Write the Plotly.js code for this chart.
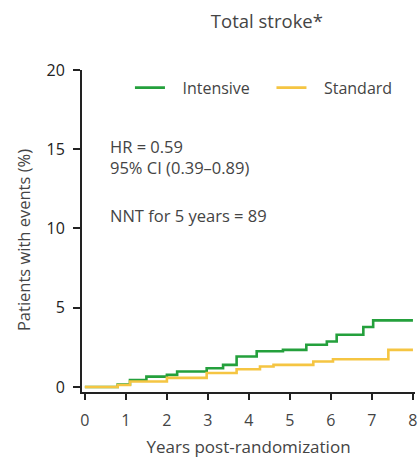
<!DOCTYPE html>
<html>
<head>
<meta charset="utf-8">
<script src="https://cdn.plot.ly/plotly-3.0.1.min.js"></script>
<style>html,body{margin:0;padding:0;background:#fff;}#chart{width:419px;height:458px;}</style>
</head>
<body>
<div id="chart"></div>
<script>
// Years post-randomization (step change points) and cumulative % with events
const intensiveYears = [0, 0.8, 1.1, 1.5, 2.0, 2.25, 2.97, 3.37, 3.7, 4.19, 4.83, 5.4, 5.9, 6.14, 6.79, 7.03, 8.0];
const intensiveValues = [0.0, 0.15, 0.44, 0.65, 0.76, 0.97, 1.18, 1.39, 1.92, 2.25, 2.34, 2.66, 2.87, 3.29, 3.78, 4.2, 4.2];
const standardYears = [0, 0.8, 1.1, 2.0, 2.97, 3.7, 4.27, 4.6, 5.57, 6.05, 7.4, 8.0];
const standardValues = [0.0, 0.12, 0.34, 0.57, 0.88, 1.12, 1.29, 1.39, 1.6, 1.75, 2.34, 2.34];
const seriesNames = ["Intensive", "Standard"];
const xTicks = [0, 1, 2, 3, 4, 5, 6, 7, 8];
const yTicks = [0, 5, 10, 15, 20];
const statLines = ["HR = 0.59", "95% CI (0.39\u20130.89)", "NNT for 5 years = 89"];

const font = "Open Sans, Noto Sans, sans-serif";
const txt = "#444";
const pad = "\u00a0\u00a0\u00a0";
const traces = [
  {x: intensiveYears, y: intensiveValues, name: pad + seriesNames[0] + "\u00a0\u00a0\u00a0\u00a0", mode: "lines",
   line: {shape: "hv", color: "#24a03c", width: 2.6}},
  {x: standardYears, y: standardValues, name: pad + seriesNames[1], mode: "lines",
   line: {shape: "hv", color: "#f5c542", width: 2.6}}
];
const layout = {
  width: 419, height: 458,
  margin: {l: 82, r: 4, t: 70, b: 66},
  paper_bgcolor: "#fff", plot_bgcolor: "#fff",
  font: {family: font, color: txt, size: 16},
  title: {text: "Total stroke*", x: 0.637, xanchor: "center", y: 0.952, yanchor: "middle",
          font: {family: font, size: 18.5, color: txt}},
  showlegend: true,
  legend: {orientation: "h", x: 0.144, xanchor: "left", y: 0.945, yanchor: "middle",
           bgcolor: "rgba(0,0,0,0)", font: {family: font, size: 16, color: txt},
           itemclick: false},
  xaxis: {range: [-0.07, 8.05], tickvals: xTicks, ticktext: xTicks.map(String),
          showgrid: false, zeroline: false, showline: true, linecolor: "#222", linewidth: 2,
          ticks: "outside", ticklen: 6, tickwidth: 2, tickcolor: "#222",
          ticklabelstandoff: 7, tickfont: {size: 16, color: txt},
          title: {text: "Years post-randomization", standoff: 12, font: {size: 17, color: txt}}},
  yaxis: {range: [-0.32, 20], tickvals: yTicks, ticktext: yTicks.map(String),
          showgrid: false, zeroline: false, showline: true, linecolor: "#222", linewidth: 2,
          ticks: "outside", ticklen: 7, tickwidth: 2, tickcolor: "#222",
          ticklabelstandoff: 5, tickfont: {size: 16, color: "#222"}},
  annotations: [
    {x: -0.177, y: 0.472, xref: "paper", yref: "paper", text: "Patients with events (%)", textangle: -90,
     showarrow: false, xanchor: "center", yanchor: "middle", font: {size: 16.5, color: txt}},
    {x: 0.56, y: 15.2, xref: "x", yref: "y", text: statLines[0], showarrow: false, xanchor: "left", yanchor: "middle", font: {size: 16.5, color: txt}},
    {x: 0.56, y: 13.82, xref: "x", yref: "y", text: statLines[1], showarrow: false, xanchor: "left", yanchor: "middle", font: {size: 16.5, color: txt}},
    {x: 0.56, y: 10.85, xref: "x", yref: "y", text: statLines[2], showarrow: false, xanchor: "left", yanchor: "middle", font: {size: 16.5, color: txt}}
  ]
};
Plotly.newPlot("chart", traces, layout, {displayModeBar: false, staticPlot: true});
</script>
</body>
</html>
